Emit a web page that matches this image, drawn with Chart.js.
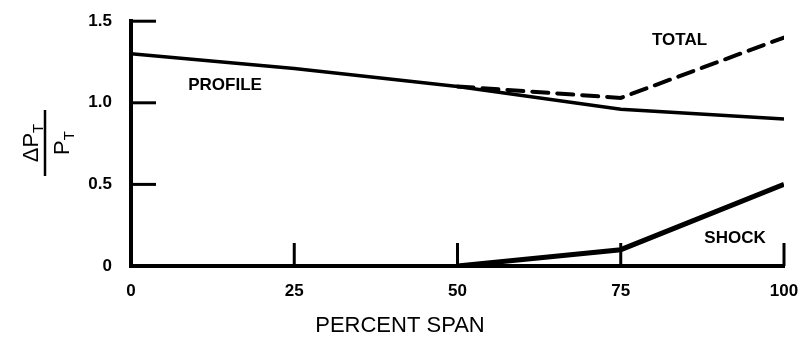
<!DOCTYPE html>
<html>
<head>
<meta charset="utf-8">
<script src="https://cdn.jsdelivr.net/npm/chart.js@4/dist/chart.umd.min.js"></script>
<style>
  html, body { margin: 0; padding: 0; background: #fff; }
  #wrap { width: 812px; height: 349px; position: relative; }
</style>
</head>
<body>
<div id="wrap"><canvas id="lossChart"></canvas></div>
<script>
// loss coefficient vs span
const spanPct = [0, 25, 50, 75, 100];
const profileLoss = [1.30, 1.21, 1.10, 0.96, 0.90];
const totalLoss = [null, null, 1.10, 1.03, 1.40];
const shockLoss = [null, null, 0.0, 0.10, 0.50];

const xTicks = [25, 50, 75, 100];
const yTicks = [0.5, 1.0, 1.5];

const FONT = "'Liberation Sans', Arial, Helvetica, sans-serif";

function toPoints(values) {
  return spanPct
    .map((x, i) => ({ x: x, y: values[i] }))
    .filter((p) => p.y !== null);
}

// short tick marks drawn inside the plot + curve labels + axis titles
const decorations = {
  id: "decorations",
  afterDraw(chart) {
    const ctx = chart.ctx;
    const xs = chart.scales.x;
    const ys = chart.scales.y;
    const area = chart.chartArea;

    ctx.save();
    ctx.strokeStyle = "#000";
    ctx.lineWidth = 3;
    ctx.lineCap = "butt";
    yTicks.forEach((v) => {
      const py = ys.getPixelForValue(v);
      ctx.beginPath();
      ctx.moveTo(area.left, py);
      ctx.lineTo(area.left + 25, py);
      ctx.stroke();
    });
    xTicks.forEach((v) => {
      const px = xs.getPixelForValue(v);
      ctx.beginPath();
      ctx.moveTo(px, area.bottom);
      ctx.lineTo(px, area.bottom - 23);
      ctx.stroke();
    });

    // curve labels
    ctx.fillStyle = "#000";
    ctx.font = "bold 17px " + FONT;
    ctx.textAlign = "center";
    ctx.textBaseline = "middle";
    ctx.fillText("PROFILE", xs.getPixelForValue(14.4), ys.getPixelForValue(1.11));
    ctx.fillText("TOTAL", xs.getPixelForValue(84), ys.getPixelForValue(1.38));
    ctx.fillText("SHOCK", xs.getPixelForValue(92.5), ys.getPixelForValue(0.17));

    // x axis title
    ctx.font = "22px " + FONT;
    ctx.fillText("PERCENT SPAN", 400, 326);

    // y axis title: ΔP_T / P_T, rotated
    ctx.translate(45, 143);
    ctx.rotate(-Math.PI / 2);
    ctx.lineWidth = 2.5;
    ctx.beginPath();
    ctx.moveTo(-33, 0);
    ctx.lineTo(33, 0);
    ctx.stroke();

    ctx.textAlign = "left";
    ctx.textBaseline = "alphabetic";
    ctx.font = "22px " + FONT;
    const numMain = "ΔP";
    const numW = ctx.measureText(numMain).width;
    ctx.font = "15px " + FONT;
    const subW = ctx.measureText("T").width;
    let sx = -(numW + subW) / 2;
    ctx.font = "22px " + FONT;
    ctx.fillText(numMain, sx, -7);
    ctx.font = "15px " + FONT;
    ctx.fillText("T", sx + numW, -2);

    ctx.font = "22px " + FONT;
    const denW = ctx.measureText("P").width;
    sx = -(denW + subW) / 2;
    ctx.fillText("P", sx, 24);
    ctx.font = "15px " + FONT;
    ctx.fillText("T", sx + denW, 29);
    ctx.restore();
  },
};

new Chart(document.getElementById("lossChart"), {
  type: "line",
  data: {
    datasets: [
      {
        label: "Profile",
        data: toPoints(profileLoss),
        borderColor: "#000",
        borderWidth: 3.5,
        pointRadius: 0,
        tension: 0,
      },
      {
        label: "Total",
        data: toPoints(totalLoss),
        borderColor: "#000",
        borderWidth: 4,
        borderDash: [16, 9],
        borderCapStyle: "round",
        pointRadius: 0,
        tension: 0,
      },
      {
        label: "Shock",
        data: toPoints(shockLoss),
        borderColor: "#000",
        borderWidth: 5,
        pointRadius: 0,
        tension: 0,
      },
    ],
  },
  options: {
    responsive: true,
    maintainAspectRatio: false,
    animation: false,
    layout: { padding: { left: 0, right: 28, top: 20, bottom: 0 } },
    plugins: {
      legend: { display: false },
      tooltip: { enabled: false },
    },
    scales: {
      x: {
        type: "linear",
        min: 0,
        max: 100,
        afterFit(scale) { scale.height = 83; },
        grid: { display: false },
        border: { display: true, color: "#000", width: 4 },
        ticks: {
          stepSize: 25,
          padding: 7,
          color: "#000",
          font: { family: FONT, size: 17, weight: "bold" },
        },
      },
      y: {
        min: 0,
        max: 1.5,
        afterFit(scale) { scale.width = 131; },
        grid: { display: false },
        border: { display: true, color: "#000", width: 4 },
        ticks: {
          stepSize: 0.5,
          padding: 11,
          color: "#000",
          font: { family: FONT, size: 17, weight: "bold" },
          callback: (v) => (v === 0 ? "0" : v.toFixed(1)),
        },
      },
    },
  },
  plugins: [decorations],
});
</script>
</body>
</html>
